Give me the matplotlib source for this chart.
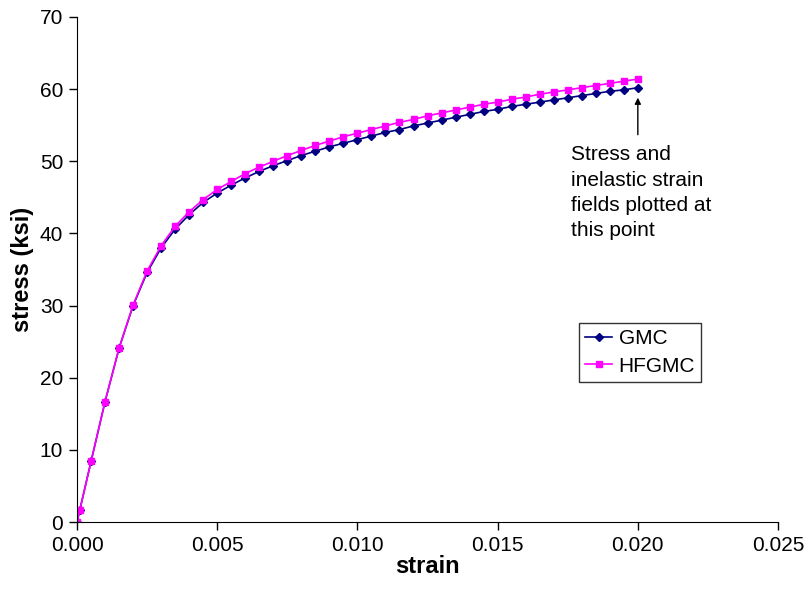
import numpy as np
import matplotlib.pyplot as plt

plt.rcParams['font.family'] = ['Liberation Sans', 'DejaVu Sans']

# strain values
strain = [0.0, 0.0001, 0.0005, 0.001, 0.0015, 0.002, 0.0025, 0.003, 0.0035, 0.004, 0.0045,
          0.005, 0.0055, 0.006, 0.0065, 0.007, 0.0075, 0.008, 0.0085, 0.009, 0.0095,
          0.010, 0.0105, 0.011, 0.0115, 0.012, 0.0125, 0.013, 0.0135, 0.014, 0.0145,
          0.015, 0.0155, 0.016, 0.0165, 0.017, 0.0175, 0.018, 0.0185, 0.019, 0.0195, 0.020]

# stress (ksi)
gmc = [0.0, 1.7, 8.4, 16.7, 24.1, 30.0, 34.6, 38.0, 40.6, 42.6, 44.3,
       45.6, 46.7, 47.7, 48.6, 49.4, 50.1, 50.8, 51.4, 52.0, 52.5,
       53.0, 53.5, 54.0, 54.4, 54.9, 55.3, 55.7, 56.1, 56.5, 56.9,
       57.2, 57.6, 57.9, 58.2, 58.5, 58.8, 59.1, 59.4, 59.7, 59.9, 60.2]
hfgmc = [0.0, 1.7, 8.4, 16.7, 24.1, 30.1, 34.8, 38.3, 41.0, 43.0, 44.7,
         46.1, 47.2, 48.3, 49.2, 50.0, 50.8, 51.5, 52.2, 52.8, 53.4,
         53.9, 54.4, 54.9, 55.4, 55.8, 56.3, 56.7, 57.1, 57.5, 57.9,
         58.2, 58.6, 58.9, 59.3, 59.6, 59.9, 60.2, 60.5, 60.8, 61.1, 61.4]

fig = plt.figure(figsize=(8.05, 5.94), dpi=100)
ax = fig.add_axes([0.0957, 0.1212, 0.8708, 0.8502])

ax.plot(strain, gmc, color='#000080', marker='D', markersize=4, linewidth=1.2, label='GMC')
ax.plot(strain, hfgmc, color='#FF00FF', marker='s', markersize=5, linewidth=1.2, label='HFGMC')

ax.set_xlim(0, 0.025)
ax.set_ylim(0, 70)
ax.set_xticks(np.arange(0, 0.0251, 0.005))
ax.set_xticklabels(['0.000', '0.005', '0.010', '0.015', '0.020', '0.025'])
ax.set_yticks(range(0, 71, 10))
ax.tick_params(labelsize=15, direction='out', length=6, width=1, pad=4)
ax.spines['top'].set_visible(False)
ax.spines['right'].set_visible(False)

ax.set_xlabel('strain', fontsize=17, fontweight='bold', labelpad=0)
ax.set_ylabel('stress (ksi)', fontsize=17, fontweight='bold', labelpad=4)

# arrow pointing at the last point
ax.annotate('', xy=(0.020, 59.2), xytext=(0.020, 53.3),
            arrowprops=dict(arrowstyle='-|>', color='black', lw=1, mutation_scale=9))
ax.text(0.01762, 52.2, 'Stress and\ninelastic strain\nfields plotted at\nthis point',
        fontsize=15, va='top', ha='left', linespacing=1.42)

leg = ax.legend(loc='upper left', bbox_to_anchor=(0.716, 0.394), fontsize=15,
                frameon=True, fancybox=False, edgecolor='black', handlelength=1.3,
                borderpad=0.3, labelspacing=0.4, handletextpad=0.3, borderaxespad=0)
leg.get_frame().set_linewidth(1)

fig.savefig('out.png', dpi=100)
